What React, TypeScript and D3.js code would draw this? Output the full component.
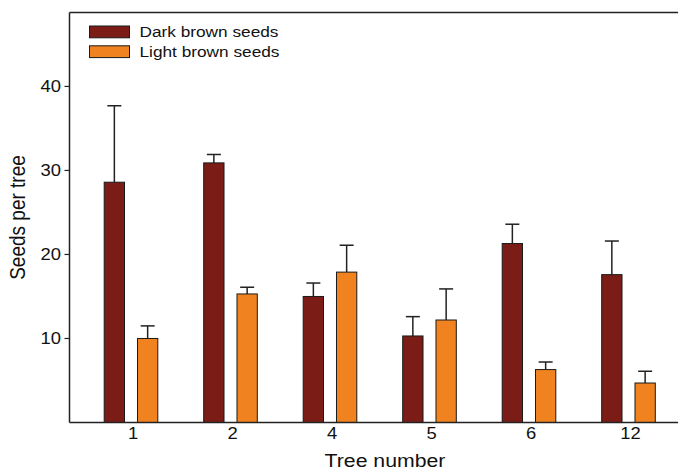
import React from "react";
import * as d3 from "d3";

const trees = ["1", "2", "4", "5", "6", "12"];
const seriesNames = ["Dark brown seeds", "Light brown seeds"];
const darkValues = [28.6, 30.9, 15.0, 10.3, 21.3, 17.6];
const darkErrors = [37.7, 31.9, 16.6, 12.6, 23.6, 21.6];
const lightValues = [10.0, 15.3, 17.9, 12.2, 6.3, 4.7];
const lightErrors = [11.5, 16.1, 21.1, 15.9, 7.2, 6.1];
const yTicks = [10, 20, 30, 40];

const W = 678;
const H = 470;
const COLORS = ["#7b1d16", "#f0831f"];
const FONT = "'Liberation Sans', Arial, Helvetica, sans-serif";
const SX = 1.15;

export default function App() {
  const axisLeft = 69.5;
  const top = 12.5;
  const bottom = 422.5;
  const y = d3.scaleLinear().domain([0, 48.8]).range([bottom, top]);
  const x = d3.scaleBand<string>().domain(trees).range([81.25, 678.25]);
  const sub = d3.scaleBand<string>().domain(seriesNames).range([0, 53.6]).paddingInner(0.39);
  const bw = sub.bandwidth();
  const series = [
    { name: seriesNames[0], vals: darkValues, errs: darkErrors, color: COLORS[0] },
    { name: seriesNames[1], vals: lightValues, errs: lightErrors, color: COLORS[1] },
  ];
  const capW = 14;

  const T = (props: any) => {
    const { x: tx, y: ty, children, anchor = "start", size = 16, rotate = 0 } = props;
    return (
      <text
        transform={`translate(${tx},${ty}) scale(${SX},1)${rotate ? ` rotate(${rotate})` : ""}`}
        textAnchor={anchor}
        fontFamily={FONT}
        fontSize={size}
        fill="#111"
      >
        {children}
      </text>
    );
  };

  return (
    <div style={{ position: "absolute", left: 0, top: 0 }}>
      <svg width={W} height={H} style={{ display: "block", background: "#fff" }}>
        {series.map((s) =>
          trees.map((t, i) => {
            const bx = (x(t) as number) + x.bandwidth() / 2 - 26.8 + (sub(s.name) as number);
            const cx = bx + bw / 2;
            return (
              <g key={s.name + t}>
                <line x1={cx} x2={cx} y1={y(s.vals[i])} y2={y(s.errs[i])} stroke="#222" strokeWidth={1.5} />
                <line x1={cx - capW / 2} x2={cx + capW / 2} y1={y(s.errs[i])} y2={y(s.errs[i])} stroke="#222" strokeWidth={1.5} />
                <rect x={bx} y={y(s.vals[i])} width={bw} height={bottom - y(s.vals[i])} fill={s.color} stroke="#1a1a1a" strokeWidth={1} />
              </g>
            );
          })
        )}
        <line x1={axisLeft} x2={axisLeft} y1={top} y2={bottom} stroke="#222" strokeWidth={1.5} />
        <line x1={axisLeft} x2={W} y1={bottom} y2={bottom} stroke="#222" strokeWidth={1.5} />
        <line x1={axisLeft} x2={W} y1={top} y2={top} stroke="#222" strokeWidth={1.5} />
        {yTicks.map((v) => (
          <g key={v}>
            <line x1={axisLeft - 5} x2={axisLeft} y1={y(v)} y2={y(v)} stroke="#222" strokeWidth={1.2} />
            <T x={61} y={y(v) + 6} anchor="end" size={16}>{v}</T>
          </g>
        ))}
        {trees.map((t) => (
          <T key={t} x={(x(t) as number) + x.bandwidth() / 2 + 2} y={439} anchor="middle" size={16}>{t}</T>
        ))}
        <T x={385} y={467} anchor="middle" size={18.5}>Tree number</T>
        <T x={25} y={217.5} anchor="middle" size={19} rotate={-90}>Seeds per tree</T>
        {series.map((s, i) => (
          <g key={s.name}>
            <rect x={89.5} y={26 + i * 19.8} width={40} height={11.8} fill={s.color} stroke="#1a1a1a" strokeWidth={1} />
            <T x={139.5} y={36.8 + i * 19.8} size={15}>{s.name}</T>
          </g>
        ))}
      </svg>
    </div>
  );
}
